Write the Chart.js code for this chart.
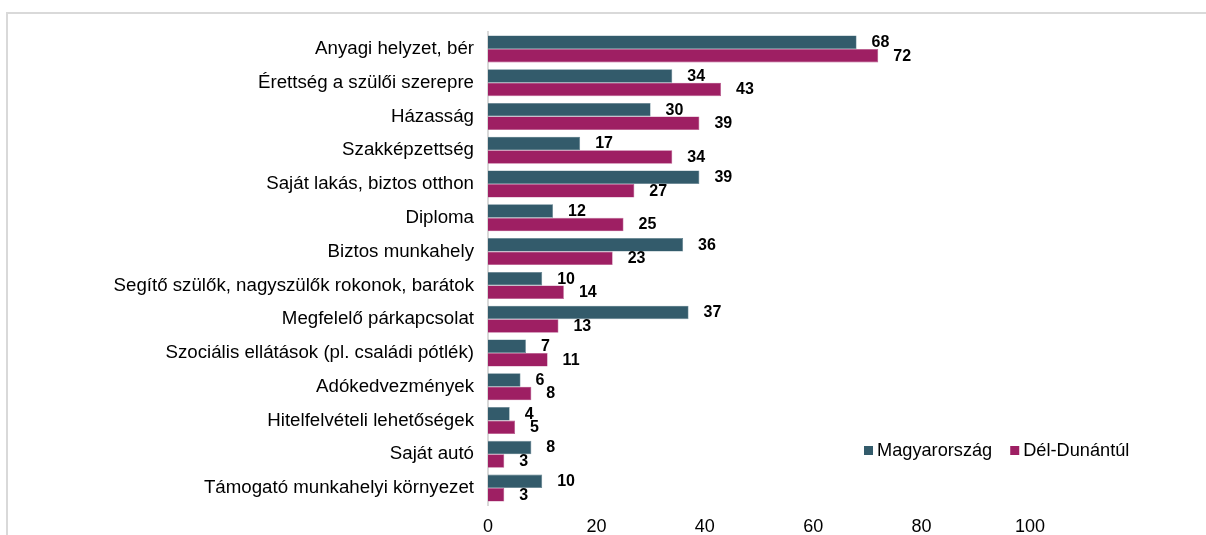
<!DOCTYPE html>
<html>
<head>
<meta charset="utf-8">
<script src="https://cdn.jsdelivr.net/npm/chart.js@4/dist/chart.umd.min.js"></script>
<style>
  html, body { margin: 0; padding: 0; background: #fff; overflow: hidden; }
  #frame { position: absolute; left: 6px; top: 12px; width: 1300px; height: 600px;
           border-left: 2px solid #d9d9d9; border-top: 2px solid #d9d9d9; }
  #wrap { position: absolute; left: 0; top: 0; width: 1206px; height: 535px; }
</style>
</head>
<body>
<div id="frame"></div>
<div id="wrap"><canvas id="factorsChart" width="1206" height="535"></canvas></div>
<script>
// Categories and values
var categories = [
    "Anyagi helyzet, bér",
    "Érettség a szülői szerepre",
    "Házasság",
    "Szakképzettség",
    "Saját lakás, biztos otthon",
    "Diploma",
    "Biztos munkahely",
    "Segítő szülők, nagyszülők rokonok, barátok",
    "Megfelelő párkapcsolat",
    "Szociális ellátások (pl. családi pótlék)",
    "Adókedvezmények",
    "Hitelfelvételi lehetőségek",
    "Saját autó",
    "Támogató munkahelyi környezet"
];
var hungaryValues = [68, 34, 30, 17, 39, 12, 36, 10, 37, 7, 6, 4, 8, 10];
var southValues = [72, 43, 39, 34, 27, 25, 23, 14, 13, 11, 8, 5, 3, 3];
var seriesNames = ["Magyarország", "Dél-Dunántúl"];
var xTicks = [0, 20, 40, 60, 80, 100];

var colors = ["#335b6b", "#9e1f63"];
var fontFamily = "'Liberation Sans', Arial, sans-serif";

// value labels just past the end of each bar
var valueLabels = {
    id: 'valueLabels',
    afterDatasetsDraw: function (chart) {
        var ctx = chart.ctx;
        ctx.save();
        ctx.font = "bold 16px " + fontFamily;
        ctx.fillStyle = "#000";
        ctx.textAlign = "left";
        ctx.textBaseline = "middle";
        chart.data.datasets.forEach(function (ds, i) {
            chart.getDatasetMeta(i).data.forEach(function (bar, j) {
                ctx.fillText(ds.data[j], bar.x + 15, bar.y + 0.5);
            });
        });
        ctx.restore();
    }
};

// legend drawn inside the plot, lower right
var innerLegend = {
    id: 'innerLegend',
    afterDraw: function (chart) {
        var ctx = chart.ctx;
        var x = chart.chartArea.left + 376;
        var y = 450;
        ctx.save();
        ctx.font = "18.2px " + fontFamily;
        ctx.textBaseline = "middle";
        seriesNames.forEach(function (name, i) {
            ctx.fillStyle = colors[i];
            ctx.fillRect(x, y - 4, 9, 9);
            ctx.fillStyle = "#000";
            ctx.fillText(name, x + 13, y + 1);
            x += 13 + ctx.measureText(name).width + 18;
        });
        ctx.restore();
    }
};

var myChart = new Chart(document.getElementById("factorsChart").getContext('2d'), {
    type: 'bar',
    data: {
        labels: categories,
        datasets: [{
            label: seriesNames[0],
            backgroundColor: colors[0],
            borderColor: "#5d7f8c",
            borderWidth: 0.6,
            data: hungaryValues
        }, {
            label: seriesNames[1],
            backgroundColor: colors[1],
            borderColor: "#b7548a",
            borderWidth: 0.6,
            data: southValues
        }]
    },
    options: {
        indexAxis: 'y',
        responsive: false,
        animation: false,
        categoryPercentage: 0.8,
        barPercentage: 1.0,
        layout: { padding: { left: 0, right: 176, top: 32, bottom: 0 } },
        plugins: {
            legend: { display: false },
            tooltip: { enabled: false }
        },
        scales: {
            x: {
                min: 0,
                max: 100,
                afterBuildTicks: function (scale) {
                    scale.ticks = xTicks.map(function (v) { return { value: v }; });
                },
                afterFit: function (scale) { scale.height = 30; },
                grid: { display: false, drawTicks: false },
                border: { display: false },
                ticks: { color: "#000", padding: 11, font: { family: fontFamily, size: 18 } }
            },
            y: {
                afterFit: function (scale) { scale.width = 488; },
                grid: { display: false, drawTicks: false },
                border: { display: true, color: "#d9d9d9", width: 2 },
                ticks: { color: "#000", padding: 14, font: { family: fontFamily, size: 18.7 } }
            }
        }
    },
    plugins: [valueLabels, innerLegend]
});
</script>
</body>
</html>
